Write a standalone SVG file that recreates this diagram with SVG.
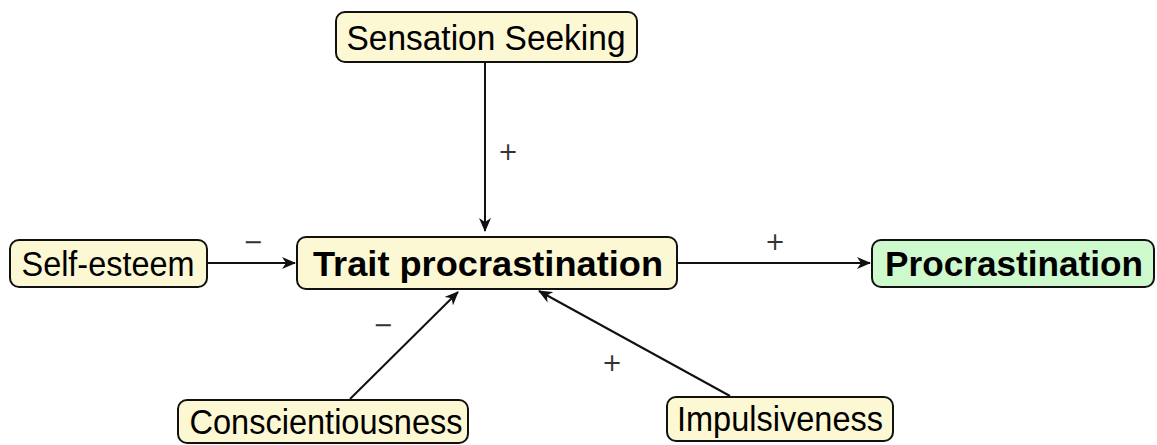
<svg xmlns="http://www.w3.org/2000/svg" width="1157" height="445" viewBox="0 0 1157 445">
<style>
.box{fill:#fdf8d4;stroke:#111;stroke-width:2}
.green{fill:#cdf9cd;stroke:#111;stroke-width:2}
.t{font-family:"Liberation Sans","DejaVu Sans",sans-serif;font-size:35px;fill:#000;text-anchor:middle}
.b{font-weight:bold}
.edge{stroke:#111;stroke-width:2;fill:none;marker-end:url(#arr)}
.lbl{font-family:"DejaVu Sans","Liberation Sans",sans-serif;font-size:24px;fill:#333;text-anchor:middle}
</style>
<defs>
<marker id="arr" viewBox="0 0 14 12" refX="13" refY="6" markerWidth="14" markerHeight="12" markerUnits="userSpaceOnUse" orient="auto">
<path d="M0,0 L14,6 L0,12 L4,6 Z" fill="#111"/>
</marker>
</defs>
<rect width="1157" height="445" fill="#fff"/>
<g id="connectors">
<line class="edge" x1="485" y1="62" x2="485" y2="231"/>
<line class="edge" x1="207" y1="263" x2="295" y2="263"/>
<line class="edge" x1="677" y1="263" x2="870" y2="263"/>
<line class="edge" x1="350" y1="399" x2="458" y2="292"/>
<line class="edge" x1="730" y1="396" x2="539" y2="291"/>
<text class="lbl" x="508" y="160">+</text>
<text class="lbl" x="253" y="250">−</text>
<text class="lbl" x="775" y="250">+</text>
<text class="lbl" x="383" y="333">−</text>
<text class="lbl" x="612" y="371">+</text>
</g>
<g id="sensation">
<rect class="box" x="336" y="12" width="301" height="50" rx="9"/>
<text class="t" x="486" y="50" textLength="279" lengthAdjust="spacingAndGlyphs">Sensation Seeking</text>
</g>
<g id="selfesteem">
<rect class="box" x="10" y="240" width="197" height="47" rx="9"/>
<text class="t" x="108" y="276" textLength="173" lengthAdjust="spacingAndGlyphs">Self-esteem</text>
</g>
<g id="trait">
<rect class="box" x="297" y="237" width="380" height="52" rx="9"/>
<text class="t b" x="488" y="276" textLength="350" lengthAdjust="spacingAndGlyphs">Trait procrastination</text>
</g>
<g id="procrastination">
<rect class="green" x="872" y="240" width="282" height="47" rx="9"/>
<text class="t b" x="1014" y="276" textLength="258" lengthAdjust="spacingAndGlyphs">Procrastination</text>
</g>
<g id="conscientiousness">
<rect class="box" x="178" y="400" width="290" height="43" rx="9"/>
<text class="t" x="326" y="434" textLength="273" lengthAdjust="spacingAndGlyphs">Conscientiousness</text>
</g>
<g id="impulsiveness">
<rect class="box" x="667" y="397" width="226" height="44" rx="9"/>
<text class="t" x="780" y="431" textLength="206" lengthAdjust="spacingAndGlyphs">Impulsiveness</text>
</g>
</svg>
